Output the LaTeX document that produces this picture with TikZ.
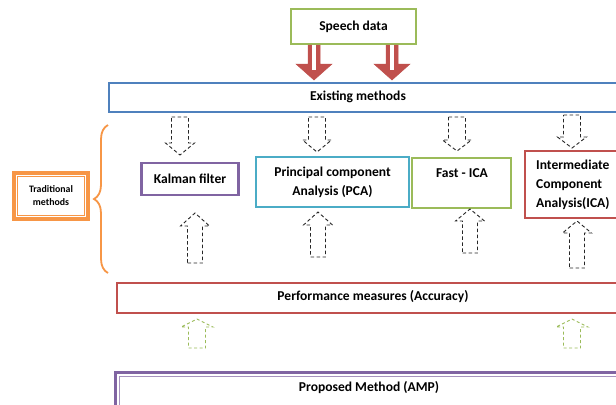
\documentclass[tikz,border=0pt]{standalone}
\usepackage{fontspec}
\setmainfont{Carlito}
\usetikzlibrary{decorations.pathreplacing}
\definecolor{cgreen}{HTML}{9BBB59}
\definecolor{cblue}{HTML}{4F81BD}
\definecolor{cpurple}{HTML}{8064A2}
\definecolor{cteal}{HTML}{4BACC6}
\definecolor{cred}{HTML}{C0504D}
\definecolor{corange}{HTML}{F79646}
\newcommand{\blockarrow}[7][]{%
  \draw[#1] ({#2-#6},#3) -- ({#2+#6},#3) -- ({#2+#6},#4) -- ({#2+#7},#4) -- (#2,#5) -- ({#2-#7},#4) -- ({#2-#6},#4) -- cycle;}
\tikzset{
  box/.style={draw, line width=2.2bp, fill=white, inner sep=0pt},
  lbl/.style={font=\fontsize{13.6}{19}\selectfont\bfseries, inner sep=0pt, align=center},
  dasharr/.style={draw=black!85, line width=0.9bp, dash pattern=on 3.5bp off 2.5bp},
  greenarr/.style={draw=cgreen, line width=0.9bp, dash pattern=on 3bp off 2.5bp},
  redarr/.style={draw=cred, fill=cred, line width=0.5bp}
}
\begin{document}
\begin{tikzpicture}[x=1bp,y=-1bp]
\clip (0,0) rectangle (616,404);
\fill[white] (0,0) rectangle (616,404);
% speech data
\node[box, draw=cgreen, minimum width=125bp, minimum height=35bp, lbl] (speech) at (353.5,26.5) {Speech data};
% red arrows
\blockarrow[redarr]{314}{45}{64}{80}{6}{18}
\fill[white] (312,45) rectangle (316,70);
\blockarrow[redarr]{392}{45}{64}{80}{6}{18}
\fill[white] (390,45) rectangle (394,70);
% existing methods
\node[box, draw=cblue, minimum width=540bp, minimum height=29bp, anchor=north west] (existing) at (108,82) {};
\node[lbl] (existingtxt) at (358,97) {Existing methods};
% traditional
\node[draw=corange, line width=3.5bp, minimum width=74bp, minimum height=46bp, inner sep=0pt] (trad) at (51,196) {};
\draw[corange, line width=0.8bp] ([xshift=5bp,yshift=-5bp]trad.north west) rectangle ([xshift=-5bp,yshift=5bp]trad.south east);
\node[font=\fontsize{9.9}{13}\selectfont\bfseries, align=center, inner sep=0pt] (tradtxt) at (51,196) {Traditional\\methods};
\draw[corange, line width=1.8bp, decorate, decoration={brace, amplitude=14bp}] (108,273) -- (108,125);
% method boxes
\node[box, draw=cpurple, minimum width=97bp, minimum height=32bp, lbl] (kalman) at (190,179) {Kalman filter};
\node[box, draw=cteal, minimum width=153bp, minimum height=50bp, lbl] (pca) at (332.5,182) {Principal component\\Analysis (PCA)};
\node[box, draw=cgreen, minimum width=99bp, minimum height=50bp] (fast) at (461.5,183) {};
\node[lbl] (fasttxt) at (462,173) {Fast - ICA};
\node[box, draw=cred, minimum width=120bp, minimum height=67bp, anchor=north west] (ica) at (524,150) {};
\node[lbl, align=left, anchor=west] (icatxt) at (536,185) {Intermediate\\Component\\Analysis(ICA)};
% dashed down arrows
\blockarrow[dasharr]{180}{117}{143}{155}{8.5}{14.5}
\blockarrow[dasharr]{317}{117}{140}{152}{8.5}{14.5}
\blockarrow[dasharr]{457}{117}{140}{151}{8.5}{14.5}
\blockarrow[dasharr]{572}{115}{137}{148}{8.5}{14.5}
% dashed up arrows
\blockarrow[dasharr]{195}{263}{226}{213}{7.5}{14.5}
\blockarrow[dasharr]{318}{257}{225}{212}{7.5}{14.5}
\blockarrow[dasharr]{470}{253}{221}{209}{7.5}{14.5}
\blockarrow[dasharr]{577}{268}{233}{221}{7.5}{14.5}
% performance
\node[box, draw=cred, minimum width=540bp, minimum height=30bp, anchor=north west] (perf) at (116,282) {};
\node[lbl] (perftxt) at (373,297) {Performance measures (Accuracy)};
% green arrows
\blockarrow[greenarr]{197}{348}{327}{319}{8.5}{16}
\blockarrow[greenarr]{572}{348}{327}{319}{8.5}{16}
% proposed
\node[draw=cpurple, line width=3bp, fill=white, minimum width=540bp, minimum height=60bp, anchor=north west, inner sep=0pt] (prop) at (114,371) {};
\draw[cpurple!70, line width=0.8bp] ([xshift=5bp,yshift=-5bp]prop.north west) rectangle ([xshift=-5bp,yshift=5bp]prop.south east);
\node[lbl] (proptxt) at (369,388) {Proposed Method (AMP)};
\end{tikzpicture}
\end{document}
